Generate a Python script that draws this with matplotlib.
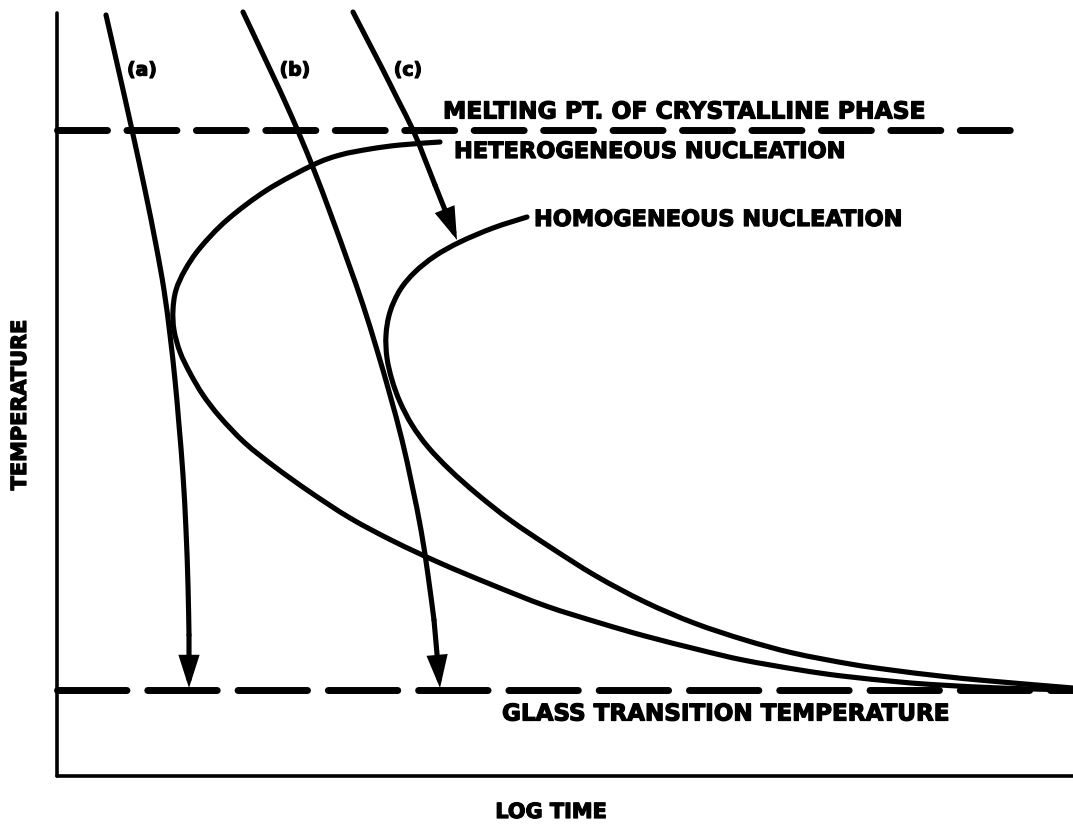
import matplotlib
matplotlib.use("Agg")
import matplotlib.pyplot as plt
import matplotlib.patheffects as pe
import numpy as np
from matplotlib.path import Path
from matplotlib.patches import PathPatch

plt.rcParams['lines.scale_dashes'] = False
plt.rcParams['font.family'] = ['DejaVu Sans']

# ---- data (chart's own arbitrary units: log time along x, temperature along y) ----
T_MELT = 646
T_GLASS = 86
X_MAX = 1016
Y_MAX = 763

cool_a_t = [49, 62, 75, 88, 99, 107, 113, 118, 122, 126, 129, 131, 132, 132]
cool_a_T = [761, 704, 646, 586, 531, 486, 441, 396, 351, 301, 246, 191, 141, 88]

cool_b_t = [186, 211, 234, 255, 274, 291, 306, 320, 333, 345, 355, 364, 371, 377, 383]
cool_b_T = [764, 711, 661, 611, 561, 514, 471, 426, 381, 336, 291, 246, 201, 156, 88]

cool_c_t = [296, 311, 326, 341, 356, 367, 378, 400]
cool_c_T = [764, 735, 706, 676, 646, 619, 591, 536]

hetero_t = [383, 343, 313, 283, 256, 210, 170, 143, 128, 119, 116, 117, 123, 133, 146,
            163, 188, 218, 253, 293, 336, 383, 433, 489, 543, 588, 643, 686, 743, 785,
            843, 883, 943, 1016]
hetero_T = [634, 631, 627, 621, 611, 586, 556, 528, 506, 486, 466, 446, 424, 403, 381,
            359, 333, 309, 284, 258, 235, 213, 192, 170, 153, 140, 126, 116, 106, 100,
            94, 91, 88, 86]

homo_t = [470, 436, 403, 378, 358, 343, 333, 329, 330, 335, 343, 355, 371, 393, 420,
          453, 493, 539, 588, 637, 688, 736, 793, 834, 883, 933, 1016]
homo_T = [559, 548, 534, 520, 504, 486, 464, 441, 418, 396, 374, 351, 329, 306, 282,
          256, 229, 200, 174, 153, 136, 123, 112, 106, 100, 95, 88]

cool_labels = ["(a)", "(b)", "(c)"]
label_t = [85, 238, 351]
label_T = [706, 706, 706]

melt_text = "MELTING PT. OF CRYSTALLINE PHASE"
hetero_text = "HETEROGENEOUS NUCLEATION"
homo_text = "HOMOGENEOUS NUCLEATION"
glass_text = "GLASS TRANSITION TEMPERATURE"
xlabel = "LOG TIME"
ylabel = "TEMPERATURE"


def smooth_path(xs, ys):
    """Path through the read points drawn with Catmull-Rom style Bezier segments."""
    P = np.column_stack([xs, ys]).astype(float)
    n = len(P)
    verts = [P[0]]
    codes = [Path.MOVETO]
    for i in range(n - 1):
        p0 = P[i - 1] if i > 0 else P[i]
        p1 = P[i]
        p2 = P[i + 1]
        p3 = P[i + 2] if i + 2 < n else P[i + 1]
        c1 = p1 + (p2 - p0) / 6.0
        c2 = p2 - (p3 - p1) / 6.0
        verts += [c1, c2, p2]
        codes += [Path.CURVE4] * 3
    return Path(verts, codes)


# ---- figure ----
W, H = 1073, 824
fig = plt.figure(figsize=(W / 100, H / 100), dpi=100)
ax = fig.add_axes([57 / W, (H - 776) / H, (W - 57) / W, 763 / H])
ax.set_xlim(0, X_MAX)
ax.set_ylim(0, Y_MAX)
for s in ("top", "right"):
    ax.spines[s].set_visible(False)
for s in ("left", "bottom"):
    ax.spines[s].set_linewidth(2.6)
    ax.spines[s].set_capstyle('round')
ax.set_xticks([])
ax.set_yticks([])

LW = 3.7


def draw_curve(xs, ys):
    ax.add_patch(PathPatch(smooth_path(xs, ys), fill=False, edgecolor='black', lw=LW,
                           capstyle='round', joinstyle='round', clip_on=False))


# dashed reference lines
ax.plot([0, 955], [T_MELT, T_MELT], color='black', lw=5, dashes=(36, 14),
        dash_capstyle='round', clip_on=False)
ax.plot([0, X_MAX], [T_GLASS, T_GLASS], color='black', lw=5, dashes=(50, 15),
        dash_capstyle='round', clip_on=False)

# nucleation curves
draw_curve(hetero_t, hetero_T)
draw_curve(homo_t, homo_T)

# cooling curves with arrow heads
for ts, Ts in ((cool_a_t, cool_a_T), (cool_b_t, cool_b_T), (cool_c_t, cool_c_T)):
    draw_curve(ts[:-1], Ts[:-1])
    ax.annotate('', xy=(ts[-1], Ts[-1]), xytext=(ts[-2], Ts[-2]),
                arrowprops=dict(arrowstyle='-|>,head_length=1.0,head_width=0.32',
                                mutation_scale=16, lw=LW, color='black',
                                shrinkA=0, shrinkB=0, joinstyle='miter',
                                capstyle='round'),
                annotation_clip=False)

heavy = [pe.withStroke(linewidth=0.9, foreground='black')]

for lab, x, y in zip(cool_labels, label_t, label_T):
    ax.text(x, y, lab, ha='center', va='center', fontsize=13.5, fontweight='bold',
            path_effects=heavy)

ax.text(386, 664, melt_text, ha='left', va='center', fontsize=16.85, fontweight='bold',
        path_effects=heavy)
ax.text(397, 624, hetero_text, ha='left', va='center', fontsize=16.2, fontweight='bold',
        path_effects=heavy)
ax.text(477, 556, homo_text, ha='left', va='center', fontsize=16.15, fontweight='bold',
        path_effects=heavy)
ax.text(445, 62, glass_text, ha='left', va='center', fontsize=16.6, fontweight='bold',
        path_effects=heavy)

fig.text(551 / W, 1 - 812 / H, xlabel, ha='center', va='center', fontsize=15,
         fontweight='bold', path_effects=heavy)
fig.text(20 / W, 1 - 405 / H, ylabel, ha='center', va='center', rotation=90,
         fontsize=15, fontweight='bold', path_effects=heavy)

fig.savefig("out.png", dpi=100, facecolor='white')
